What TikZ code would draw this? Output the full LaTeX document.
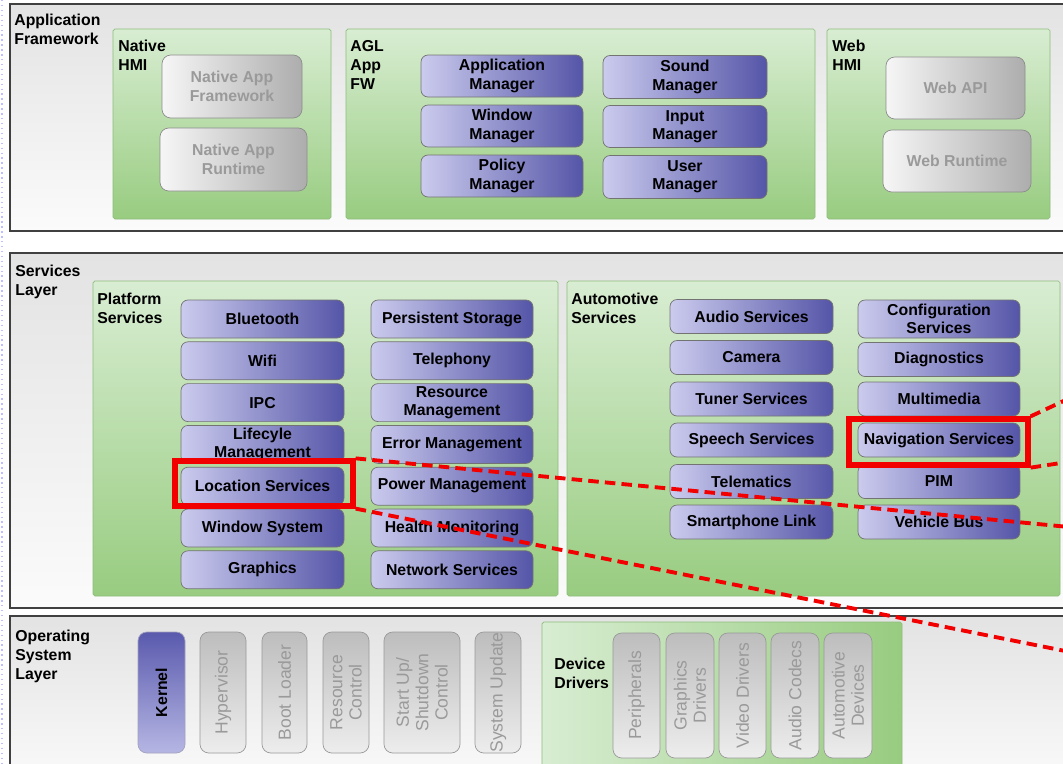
\documentclass[tikz,border=0pt]{standalone}
\usepackage{fontspec}
\setmainfont{Liberation Sans}

\definecolor{blueL}{HTML}{CBCBEE}
\definecolor{blueD}{HTML}{5555A8}
\definecolor{grayL}{HTML}{F6F6F6}
\definecolor{grayD}{HTML}{ADADAD}
\definecolor{grayTxt}{HTML}{9A9A9A}
\definecolor{greenL}{HTML}{D8EDD2}
\definecolor{greenD}{HTML}{98CC80}
\definecolor{greenLine}{HTML}{8DBD7C}
\definecolor{layerTop}{HTML}{E3E3E3}
\definecolor{layerBot}{HTML}{FBFBFB}
\definecolor{kernTop}{HTML}{5A5AAE}
\definecolor{kernBot}{HTML}{B6B6E4}
\definecolor{osTop}{HTML}{BDBDBD}
\definecolor{osBot}{HTML}{EDEDED}
\definecolor{hiRed}{HTML}{F20000}

\tikzset{
  wh/.style 2 args={minimum width=#1*0.02cm, minimum height=#2*0.02cm},
  layer/.style={draw=black!75, line width=1.1pt, top color=layerTop, bottom color=layerBot},
  grp/.style={draw=greenLine, rounded corners=1pt, top color=greenL, bottom color=greenD},
  grpside/.style={draw=greenLine, rounded corners=1pt, left color=greenL, right color=greenD},
  lbl/.style={anchor=north west, inner sep=0pt, align=left, font=\bfseries\fontsize{9}{10.8}\selectfont},
  svc/.style={draw=black!55, rounded corners=4pt, left color=blueL, right color=blueD,
    inner sep=0pt, align=center, font=\bfseries\fontsize{9}{10.5}\selectfont},
  ghost/.style={draw=black!45, rounded corners=5pt, left color=grayL, right color=grayD,
    text=grayTxt, inner sep=0pt, align=center, font=\bfseries\fontsize{9}{10.5}\selectfont},
  osbox/.style={draw=black!40, rounded corners=5pt, rotate=90, top color=osTop, bottom color=osBot,
    text=grayTxt, inner sep=0pt, align=center, font=\fontsize{10}{11}\selectfont},
  kernbox/.style={draw=blueL!80!black, rounded corners=5pt, rotate=90, top color=kernTop, bottom color=kernBot,
    inner sep=0pt, align=center, font=\bfseries\fontsize{9}{10.5}\selectfont},
  hilite/.style={draw=hiRed, line width=3pt, inner sep=0pt},
  reddash/.style={draw=hiRed, line width=2.2pt, dash pattern=on 6pt off 3.5pt}
}

\begin{document}
\begin{tikzpicture}[x=0.02cm, y=-0.02cm]
    \useasboundingbox (0,0) rectangle (1063,764);
    \clip (0,0) rectangle (1063,764);
    \fill[white] (0,0) rectangle (1063,764);
    \draw[blue!25, dotted, line width=0.8pt] (2,0) -- (2,764);

    % Application framework layer
    \draw[layer] (10,4) rectangle (1075,231);
    \node[lbl] (appfwlbl) at (14,14) {Application\\Framework};

    \draw[grp] (113,29) rectangle (331,219);
    \node[lbl] (nativelbl) at (118,40) {Native\\HMI};
    \node[ghost, wh={140}{63}] (nativefw) at (232,86.5) {Native App\\Framework};
    \node[ghost, wh={147}{63}] (nativert) at (233.5,159.5) {Native App\\Runtime};

    \draw[grp] (346,29) rectangle (815,219);
    \node[lbl] (agllbl) at (350,40) {AGL\\App\\FW};
    \node[svc, wh={162}{42}] (appmgr) at (502,76) {Application\\Manager};
    \node[svc, wh={162}{42}] (winmgr) at (502,126) {Window\\Manager};
    \node[svc, wh={162}{42}] (polmgr) at (502,176) {Policy\\Manager};
    \node[svc, wh={164}{43}] (sndmgr) at (685,77) {Sound\\Manager};
    \node[svc, wh={164}{42}] (inpmgr) at (685,126.5) {Input\\Manager};
    \node[svc, wh={164}{43}] (usrmgr) at (685,177) {User\\Manager};

    \draw[grp] (827,29) rectangle (1050,219);
    \node[lbl] (weblbl) at (832,40) {Web\\HMI};
    \node[ghost, wh={139}{62}] (webapi) at (955.5,88) {Web API};
    \node[ghost, wh={148}{62}] (webrt) at (957,161) {Web Runtime};

    % Services layer
    \draw[layer] (10,253) rectangle (1075,608);
    \node[lbl] (svclbl) at (15,265) {Services\\Layer};

    \draw[grp] (93,281) rectangle (558,596);
    \node[lbl] (platlbl) at (97,293) {Platform\\Services};
    \node[svc, wh={163}{38}] (bt) at (262.5,319) {Bluetooth};
    \node[svc, wh={163}{38}] (wifi) at (262.5,360.8) {Wifi};
    \node[svc, wh={163}{38}] (ipc) at (262.5,402.6) {IPC};
    \node[svc, wh={163}{38}] (life) at (262.5,444.4) {Lifecyle\\Management};
    \node[svc, wh={163}{38}] (loc) at (262.5,486.2) {Location Services};
    \node[svc, wh={163}{38}] (winsys) at (262.5,528) {Window System};
    \node[svc, wh={163}{38}] (gfx) at (262.5,569.8) {Graphics};
    \node[svc, wh={162}{38}] (store) at (452,319) {Persistent Storage};
    \node[svc, wh={162}{38}] (tel) at (452,360.8) {Telephony};
    \node[svc, wh={162}{38}] (resmgmt) at (452,402.6) {Resource\\Management};
    \node[svc, wh={162}{38}] (errmgmt) at (452,444.4) {Error Management};
    \node[svc, wh={162}{38}] (pwrmgmt) at (452,486.2) {Power Management};
    \node[svc, wh={162}{38}] (health) at (452,528) {Health Monitoring};
    \node[svc, wh={162}{38}] (net) at (452,569.8) {Network Services};

    \draw[grp] (567,281) rectangle (1060,596);
    \node[lbl] (autolbl) at (571,293) {Automotive\\Services};
    \node[svc, wh={163}{34}] (audio) at (751.5,316.5) {Audio Services};
    \node[svc, wh={163}{34}] (cam) at (751.5,357.5) {Camera};
    \node[svc, wh={163}{34}] (tuner) at (751.5,399) {Tuner Services};
    \node[svc, wh={163}{34}] (speech) at (751.5,440) {Speech Services};
    \node[svc, wh={163}{34}] (telem) at (751.5,481.5) {Telematics};
    \node[svc, wh={163}{34}] (phone) at (751.5,522) {Smartphone Link};
    \node[svc, wh={162}{38}] (config) at (939,319) {Configuration\\Services};
    \node[svc, wh={162}{34}] (diag) at (939,359.5) {Diagnostics};
    \node[svc, wh={162}{34}] (media) at (939,399) {Multimedia};
    \node[svc, wh={162}{34}] (nav) at (939,440) {Navigation Services};
    \node[svc, wh={162}{34}] (pim) at (939,481.5) {PIM};
    \node[svc, wh={162}{34}] (vbus) at (939,522) {Vehicle Bus};

    % Operating system layer
    \draw[layer] (10,616) rectangle (1075,790);
    \node[lbl] (oslbl) at (15,630) {Operating\\System\\Layer};
    \node[kernbox, wh={121}{47}] (kernel) at (161.5,692.5) {Kernel};
    \node[osbox, wh={121}{46}] (hyper) at (223,692.5) {Hypervisor};
    \node[osbox, wh={121}{45}] (boot) at (284.5,692.5) {Boot Loader};
    \node[osbox, wh={121}{46}] (rsrc) at (346,692.5) {Resource\\Control};
    \node[osbox, wh={121}{76}] (start) at (422,692.5) {Start Up/\\Shutdown\\Control};
    \node[osbox, wh={121}{46}] (update) at (498,692.5) {System Update};

    \draw[grpside] (542,622) rectangle (902,790);
    \node[lbl] (drvlbl) at (554,658) {Device\\Drivers};
    \node[osbox, wh={125}{47}] (periph) at (636.5,695.5) {Peripherals};
    \node[osbox, wh={125}{48}] (gfxdrv) at (690,695.5) {Graphics\\Drivers};
    \node[osbox, wh={125}{47}] (viddrv) at (742.5,695.5) {Video Drivers};
    \node[osbox, wh={125}{48}] (codec) at (795,695.5) {Audio Codecs};
    \node[osbox, wh={125}{48}] (autodev) at (848,695.5) {Automotive\\Devices};

    % Highlighted services and their zoom lines
    \node[hilite, wh={178}{45}] (locmark) at (264,483.5) {};
    \node[hilite, wh={179}{46}] (navmark) at (938.5,442) {};
    \coordinate (locfarA) at (1100,530);
    \coordinate (locfarB) at (1100,658);
    \coordinate (navfarA) at (1100,384);
    \coordinate (navfarB) at (1100,457);
    \draw[reddash] (locmark.north east) -- (locfarA);
    \draw[reddash] (locmark.south east) -- (locfarB);
    \draw[reddash] (navmark.north east) -- (navfarA);
    \draw[reddash] (navmark.south east) -- (navfarB);
\end{tikzpicture}
\end{document}
